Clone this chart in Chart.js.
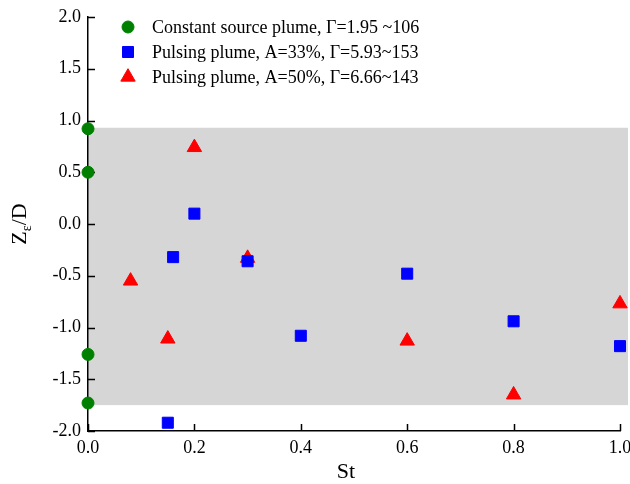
<!DOCTYPE html>
<html>
<head>
<meta charset="utf-8">
<script src="https://cdn.jsdelivr.net/npm/chart.js@4/dist/chart.umd.min.js"></script>
<style>
  html, body { margin: 0; padding: 0; background: #fff; }
  #wrap { width: 630px; height: 484px; }
</style>
</head>
<body>
<div id="wrap"><canvas id="grafica"></canvas></div>
<script>
// datos
const legendLabels = [
  "Constant source plume, \u0393=1.95 ~106",
  "Pulsing plume, A=33%, \u0393=5.93~153",
  "Pulsing plume, A=50%, \u0393=6.66~143"
];
const constX = [0, 0, 0, 0];
const constY = [0.92, 0.50, -1.26, -1.73];
const pulse33X = [0.16, 0.20, 0.30, 0.40, 0.15, 0.60, 0.80, 1.00];
const pulse33Y = [-0.32, 0.10, -0.36, -1.08, -1.92, -0.48, -0.94, -1.18];
const pulse50X = [0.20, 0.08, 0.15, 0.30, 0.60, 0.80, 1.00];
const pulse50Y = [0.74, -0.55, -1.11, -0.33, -1.13, -1.65, -0.77];
const band = [-1.75, 0.93]; // franja gris
const xTicks = [0, 0.2, 0.4, 0.6, 0.8, 1.0];
const yTicks = [-2, -1.5, -1, -0.5, 0, 0.5, 1, 1.5, 2];

const FONT = "'Liberation Serif', 'Times New Roman', serif";

function pares(xs, ys) {
  return xs.map((x, i) => ({ x: x, y: ys[i] }));
}

// franja gris, ticks hacia adentro, titulos y leyenda
const decoracion = {
  id: "decoracion",
  beforeDraw(chart) {
    const { ctx, chartArea, scales } = chart;
    const yTop = scales.y.getPixelForValue(band[1]);
    const yBot = scales.y.getPixelForValue(band[0]);
    ctx.save();
    ctx.fillStyle = "#d6d6d6";
    ctx.fillRect(chartArea.left, yTop, chart.width - 2 - chartArea.left, yBot - yTop);
    ctx.restore();
  },
  beforeDatasetsDraw(chart) {
    const { ctx, chartArea, scales } = chart;
    ctx.save();
    ctx.strokeStyle = "#000";
    ctx.lineWidth = 1.5;
    ctx.beginPath();
    xTicks.forEach(v => {
      const px = Math.round(scales.x.getPixelForValue(v)) + 0.5;
      ctx.moveTo(px, chartArea.bottom);
      ctx.lineTo(px, chartArea.bottom - 7);
    });
    yTicks.forEach(v => {
      const py = Math.round(scales.y.getPixelForValue(v)) + 0.5;
      ctx.moveTo(chartArea.left, py);
      ctx.lineTo(chartArea.left + 7, py);
    });
    ctx.stroke();
    ctx.restore();
  },
  afterDraw(chart) {
    const { ctx } = chart;
    ctx.save();
    ctx.fillStyle = "#000";

    // titulo eje X
    ctx.font = "22px " + FONT;
    ctx.textAlign = "center";
    ctx.textBaseline = "alphabetic";
    ctx.fillText("St", 346, 478);

    // titulo eje Y con subindice
    ctx.translate(26, 224);
    ctx.rotate(-Math.PI / 2);
    ctx.textAlign = "left";
    const zW = ctx.measureText("Z").width;
    ctx.font = "14px " + FONT;
    const eW = ctx.measureText("\u03b5").width;
    ctx.font = "22px " + FONT;
    const dW = ctx.measureText("/D").width;
    let x0 = -(zW + eW + dW) / 2;
    ctx.fillText("Z", x0, 0);
    ctx.font = "14px " + FONT;
    ctx.fillText("\u03b5", x0 + zW, 5);
    ctx.font = "22px " + FONT;
    ctx.fillText("/D", x0 + zW + eW, 0);
    ctx.restore();

    // leyenda dentro del area
    ctx.save();
    ctx.font = "18px " + FONT;
    ctx.textBaseline = "middle";
    ctx.fillStyle = "#000";
    chart.data.datasets.forEach((ds, i) => {
      const y = 27 + i * 25;
      ctx.fillStyle = ds.backgroundColor;
      ctx.strokeStyle = ds.borderColor;
      ctx.lineWidth = 1;
      Chart.helpers.drawPoint(ctx, { pointStyle: ds.pointStyle, radius: ds.pointRadius, rotation: 0, borderWidth: 1 }, 128, y);
      ctx.fillStyle = "#000";
      ctx.fillText(legendLabels[i], 152, y + 1);
    });
    ctx.restore();
  }
};

const ctx = document.getElementById("grafica").getContext("2d");

new Chart(ctx, {
  type: "scatter",
  data: {
    datasets: [
      {
        label: legendLabels[0],
        data: pares(constX, constY),
        pointStyle: "circle",
        pointRadius: 6,
        backgroundColor: "#008000",
        borderColor: "#008000",
        borderWidth: 1,
        clip: false
      },
      {
        label: legendLabels[1],
        data: pares(pulse33X, pulse33Y),
        pointStyle: "rect",
        pointRadius: 7.8,
        backgroundColor: "#0000ff",
        borderColor: "#0000ff",
        borderWidth: 1,
        clip: false
      },
      {
        label: legendLabels[2],
        data: pares(pulse50X, pulse50Y),
        pointStyle: "triangle",
        pointRadius: 8.3,
        backgroundColor: "#ff0000",
        borderColor: "#ff0000",
        borderWidth: 1,
        clip: false
      }
    ]
  },
  options: {
    responsive: true,
    maintainAspectRatio: false,
    animation: false,
    layout: {
      autoPadding: false,
      padding: { top: 17, right: 10, left: 0, bottom: 0 }
    },
    plugins: {
      legend: { display: false },
      tooltip: { enabled: false }
    },
    scales: {
      x: {
        type: "linear",
        min: 0,
        max: 1,
        afterFit: s => { s.height = 53; s.paddingLeft = 0; s.paddingRight = 0; },
        afterBuildTicks: s => { s.ticks = xTicks.map(v => ({ value: v })); },
        grid: { display: false, drawTicks: false },
        border: { display: true, color: "#000", width: 1.5 },
        ticks: {
          padding: 6,
          color: "#000",
          font: { family: FONT, size: 18 },
          callback: v => v.toFixed(1)
        }
      },
      y: {
        type: "linear",
        min: -2,
        max: 2,
        afterFit: s => { s.width = 88; s.paddingTop = 0; s.paddingBottom = 0; },
        afterBuildTicks: s => { s.ticks = yTicks.map(v => ({ value: v })); },
        grid: { display: false, drawTicks: false },
        border: { display: true, color: "#000", width: 1.5 },
        ticks: {
          padding: 7,
          color: "#000",
          font: { family: FONT, size: 18 },
          callback: v => v.toFixed(1)
        }
      }
    }
  },
  plugins: [decoracion]
});
</script>
</body>
</html>
